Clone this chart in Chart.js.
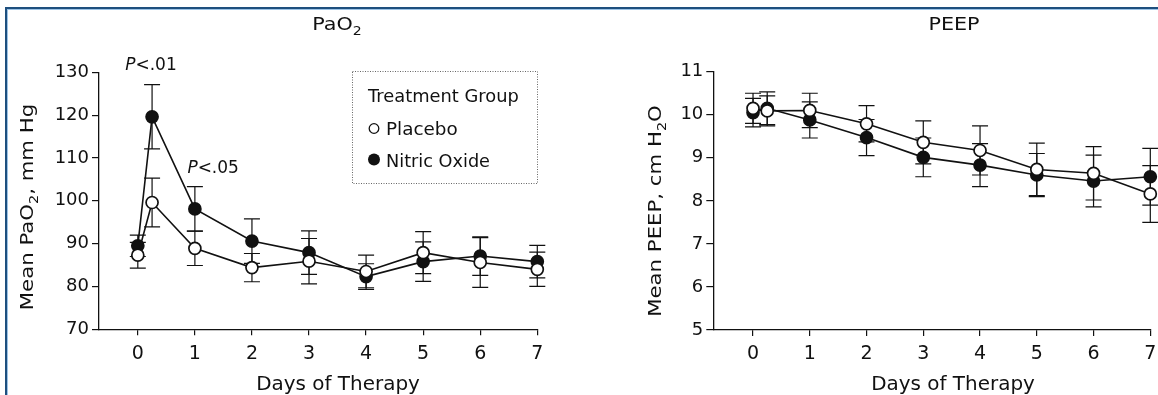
<!DOCTYPE html>
<html>
<head>
<meta charset="utf-8">
<script src="https://cdn.jsdelivr.net/npm/chart.js@4.4.1/dist/chart.umd.min.js"></script>
<style>
  html, body { margin: 0; padding: 0; background: #fff; }
  #wrap { position: relative; width: 1158px; height: 395px; overflow: hidden; }
  .pane { position: absolute; top: 0; width: 579px; height: 395px; }
  #frame { position: absolute; left: 5px; top: 7px; width: 1300px; height: 600px;
           border-top: 2px solid #1e4f7e; border-left: 2px solid #1e4f7e; }
  #frame2 { position: absolute; left: 7px; top: 9px; width: 1300px; height: 600px;
            border-top: 1px solid #9cc3e6; border-left: 1px solid #9cc3e6; }
</style>
</head>
<body>
<div id="wrap">
  <div id="frame"></div><div id="frame2"></div>
  <div class="pane" style="left:0"><canvas id="pao2" width="579" height="395"></canvas></div>
  <div class="pane" style="left:579px"><canvas id="peep" width="579" height="395"></canvas></div>
</div>
<script>
// days of therapy (0.25 = first hours after start)
const days = [0, 0.25, 1, 2, 3, 4, 5, 6, 7];
const dayTicks = [0, 1, 2, 3, 4, 5, 6, 7];

// PaO2, mm Hg
const pao2Ticks = [70, 80, 90, 100, 110, 120, 130];
const pao2Placebo = [87.3, 99.6, 88.9, 84.4, 85.9, 83.5, 87.9, 85.6, 84.0];
const pao2PlaceboErr = [3.0, 5.7, 4.0, 3.3, 5.3, 3.8, 4.9, 5.8, 4.0];
const pao2Nitric = [89.5, 119.6, 98.1, 90.6, 87.9, 82.3, 85.8, 87.1, 85.8];
const pao2NitricErr = [2.5, 7.5, 5.2, 5.2, 5.1, 3.0, 4.6, 4.5, 3.8];

// PEEP, cm H2O
const peepTicks = [5, 6, 7, 8, 9, 10, 11];
const peepPlacebo = [10.15, 10.09, 10.1, 9.79, 9.36, 9.17, 8.73, 8.64, 8.16];
const peepPlaceboErr = [0.35, 0.35, 0.4, 0.42, 0.5, 0.57, 0.61, 0.62, 0.66];
const peepNitric = [10.05, 10.15, 9.88, 9.47, 9.01, 8.83, 8.60, 8.46, 8.56];
const peepNitricErr = [0.33, 0.38, 0.42, 0.42, 0.45, 0.5, 0.5, 0.6, 0.66];

const FONT = '"DejaVu Sans", sans-serif';
const INK = '#111';
Chart.defaults.font.family = FONT;
Chart.defaults.color = INK;

// text with optional subscript / italic pieces, stretched sideways a bit like the original
function drawText(ctx, parts, x, y, size, stretch, align, rotate) {
  ctx.save();
  ctx.translate(x, y);
  if (rotate) ctx.rotate(-Math.PI / 2);
  ctx.scale(stretch, 1);
  let total = 0;
  const segs = parts.map(p => {
    const sub = p[1] === 'sub';
    const f = (p[1] === 'italic' ? 'italic ' : '') + (sub ? size * 0.68 : size) + 'px ' + FONT;
    ctx.font = f;
    const w = ctx.measureText(p[0]).width;
    total += w;
    return { t: p[0], f: f, w: w, dy: sub ? size * 0.3 : 0 };
  });
  let cx = align === 'left' ? 0 : -total / 2;
  ctx.fillStyle = INK;
  ctx.textAlign = 'left';
  ctx.textBaseline = 'alphabetic';
  segs.forEach(s => {
    ctx.font = s.f;
    ctx.fillText(s.t, cx, s.dy);
    cx += s.w;
  });
  ctx.restore();
}

const errorBars = {
  id: 'errorBars',
  beforeDatasetsDraw(chart) {
    const ctx = chart.ctx, xs = chart.scales.x, ys = chart.scales.y;
    ctx.save();
    ctx.strokeStyle = INK;
    ctx.lineWidth = 1.2;
    chart.data.datasets.forEach(ds => {
      ds.data.forEach((pt, i) => {
        const e = ds.errors[i];
        const x = xs.getPixelForValue(pt.x);
        const yt = ys.getPixelForValue(pt.y + e);
        const yb = ys.getPixelForValue(pt.y - e);
        ctx.beginPath();
        ctx.moveTo(x, yt); ctx.lineTo(x, yb);
        ctx.moveTo(x - 8, yt); ctx.lineTo(x + 8, yt);
        ctx.moveTo(x - 8, yb); ctx.lineTo(x + 8, yb);
        ctx.stroke();
      });
    });
    ctx.restore();
  }
};

function points(vals) {
  return days.map((d, i) => ({ x: d, y: vals[i] }));
}

function series(label, vals, errs, fill) {
  return {
    label: label,
    data: points(vals),
    errors: errs,
    borderColor: INK,
    borderWidth: 1.6,
    pointRadius: 6,
    pointHoverRadius: 6,
    pointBackgroundColor: fill,
    pointBorderColor: INK,
    pointBorderWidth: 1.7,
    tension: 0,
    clip: false
  };
}

function makeChart(id, cfg) {
  const axisGrid = { drawOnChartArea: false, drawTicks: true, color: INK, lineWidth: 1.2 };
  return new Chart(document.getElementById(id), {
    type: 'line',
    data: {
      datasets: [
        series('Placebo', cfg.placebo, cfg.placeboErr, '#fff'),
        series('Nitric Oxide', cfg.nitric, cfg.nitricErr, INK)
      ]
    },
    options: {
      responsive: false,
      animation: false,
      events: [],
      layout: { padding: { left: 0, top: cfg.top, right: cfg.right, bottom: 0 } },
      plugins: { legend: { display: false }, tooltip: { enabled: false } },
      scales: {
        x: {
          type: 'linear', min: cfg.xMin, max: 7,
          afterBuildTicks: s => { s.ticks = dayTicks.map(v => ({ value: v })); },
          afterFit: s => { s.height = cfg.xHeight; s.paddingLeft = 0; s.paddingRight = 0; },
          grid: Object.assign({ tickLength: 6 }, axisGrid),
          border: { color: INK, width: 1.3 },
          ticks: { font: { size: 19 }, padding: 7, maxRotation: 0 }
        },
        y: {
          min: cfg.yTicks[0], max: cfg.yTicks[cfg.yTicks.length - 1],
          afterBuildTicks: s => { s.ticks = cfg.yTicks.map(v => ({ value: v })); },
          afterFit: s => { s.width = cfg.yWidth; },
          grid: Object.assign({ tickLength: 7 }, axisGrid),
          border: { color: INK, width: 1.3 },
          ticks: { font: { size: 18 }, padding: 3 }
        }
      }
    },
    plugins: [errorBars, { id: 'texts', afterDraw: cfg.texts }]
  });
}

makeChart('pao2', {
  placebo: pao2Placebo, placeboErr: pao2PlaceboErr,
  nitric: pao2Nitric, nitricErr: pao2NitricErr,
  yTicks: pao2Ticks, xMin: -0.68,
  top: 72.3, right: 41.7, xHeight: 65.7, yWidth: 99,
  texts(chart) {
    const ctx = chart.ctx, xs = chart.scales.x, ys = chart.scales.y;
    drawText(ctx, [['PaO'], ['2', 'sub']], 337, 30, 18, 1.15);
    drawText(ctx, [['Days of Therapy']], 338, 389.5, 19, 1.05);
    drawText(ctx, [['Mean PaO'], ['2', 'sub'], [', mm Hg']], 33, 207, 18, 1.18, 'center', true);
    drawText(ctx, [['P', 'italic'], ['<.01']], xs.getPixelForValue(0.23), ys.getPixelForValue(130.5), 17, 1.0);
    drawText(ctx, [['P', 'italic'], ['<.05']], xs.getPixelForValue(1.32), ys.getPixelForValue(106.5), 17, 1.0);
    // legend box
    ctx.save();
    ctx.strokeStyle = '#666';
    ctx.lineWidth = 1;
    ctx.setLineDash([1, 1.5]);
    ctx.strokeRect(352.5, 71.5, 185, 112);
    ctx.setLineDash([]);
    ctx.lineWidth = 1.3;
    ctx.strokeStyle = INK;
    ctx.fillStyle = '#fff';
    ctx.beginPath(); ctx.arc(374, 128.5, 4.8, 0, Math.PI * 2); ctx.fill(); ctx.stroke();
    ctx.fillStyle = INK;
    ctx.beginPath(); ctx.arc(374, 159.5, 6, 0, Math.PI * 2); ctx.fill();
    ctx.restore();
    drawText(ctx, [['Treatment Group']], 368, 101.5, 17, 1.05, 'left');
    drawText(ctx, [['Placebo']], 386, 134.5, 17, 1.08, 'left');
    drawText(ctx, [['Nitric Oxide']], 386, 166.5, 17, 1.04, 'left');
  }
});

makeChart('peep', {
  placebo: peepPlacebo, placeboErr: peepPlaceboErr,
  nitric: peepNitric, nitricErr: peepNitricErr,
  yTicks: peepTicks, xMin: -0.70,
  top: 71.7, right: 5.3, xHeight: 65, yWidth: 134.3,
  texts(chart) {
    const ctx = chart.ctx;
    drawText(ctx, [['PEEP']], 954 - 579, 30, 18, 1.15);
    drawText(ctx, [['Days of Therapy']], 953 - 579, 389.5, 19, 1.05);
    drawText(ctx, [['Mean PEEP, cm H'], ['2', 'sub'], ['O']], 661 - 579, 211, 18, 1.18, 'center', true);
  }
});
</script>
</body>
</html>
